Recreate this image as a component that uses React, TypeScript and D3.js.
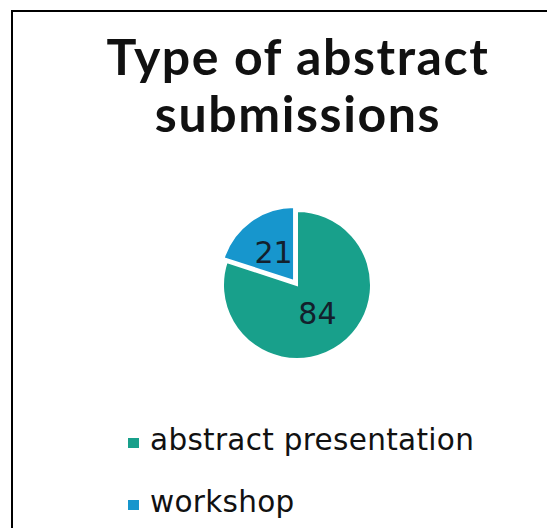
import * as d3 from 'd3';
import React from 'react';

const categories = ['abstract presentation', 'workshop'];
const values = [84, 21];
const colors = ['#18a08b', '#1796cd'];
const titleLines = ['Type of abstract', 'submissions'];

const W = 547;
const H = 528;

type Slice = { category: string; value: number; color: string };

const App: React.FC = () => {
  const data: Slice[] = categories.map((c, i) => ({ category: c, value: values[i], color: colors[i] }));

  const cx = 297;
  const cy = 285;
  const radius = 74;

  const pie = d3
    .pie<Slice>()
    .value((d) => d.value)
    .sort(null);
  const arcs = pie(data);
  const arc = d3.arc<d3.PieArcDatum<Slice>>().innerRadius(0).outerRadius(radius);
  const labelArc = d3.arc<d3.PieArcDatum<Slice>>().innerRadius(radius * 0.47).outerRadius(radius * 0.47);

  // legend rows (baselines)
  const legendY = d3.scalePoint<string>().domain(categories).range([450, 512]);

  return (
    <svg width={W} height={H} style={{ position: 'absolute', left: 0, top: 0, background: '#fff' }}>
      <rect x={12} y={11} width={W + 20} height={H + 20} fill="none" stroke="#000" strokeWidth={2} />
      {titleLines.map((t, i) => (
        <text
          key={t}
          x={298}
          y={75 + i * 57}
          textAnchor="middle"
          fontFamily="Lato, sans-serif"
          fontSize={50}
          fontWeight="bold"
          letterSpacing={1.6}
          fill="#111"
        >
          {t}
        </text>
      ))}
      <g transform={`translate(${cx},${cy})`} fontFamily="'DejaVu Sans', sans-serif">
        {arcs.map((a, i) => {
          const mid = (a.startAngle + a.endAngle) / 2;
          const off = i === 1 ? 5 : 0;
          const dx = Math.sin(mid) * off;
          const dy = -Math.cos(mid) * off;
          const [lx, ly] = labelArc.centroid(a);
          return (
            <g key={a.data.category} transform={`translate(${dx},${dy})`}>
              <path d={arc(a) ?? ''} fill={a.data.color} stroke="#fff" strokeWidth={2} />
              <text
                x={lx}
                y={ly}
                textAnchor="middle"
                dominantBaseline="central"
                fontSize={30}
                fill="#13202c"
              >
                {a.data.value}
              </text>
            </g>
          );
        })}
      </g>
      {data.map((d) => {
        const y = legendY(d.category) ?? 0;
        return (
          <g key={d.category}>
            <rect x={128} y={y - 12} width={11} height={10} fill={d.color} />
            <text
              x={150}
              y={y}
              fontFamily="'DejaVu Sans', sans-serif"
              fontSize={29.5}
              letterSpacing={0.3}
              fill="#111"
            >
              {d.category}
            </text>
          </g>
        );
      })}
    </svg>
  );
};

export default App;
